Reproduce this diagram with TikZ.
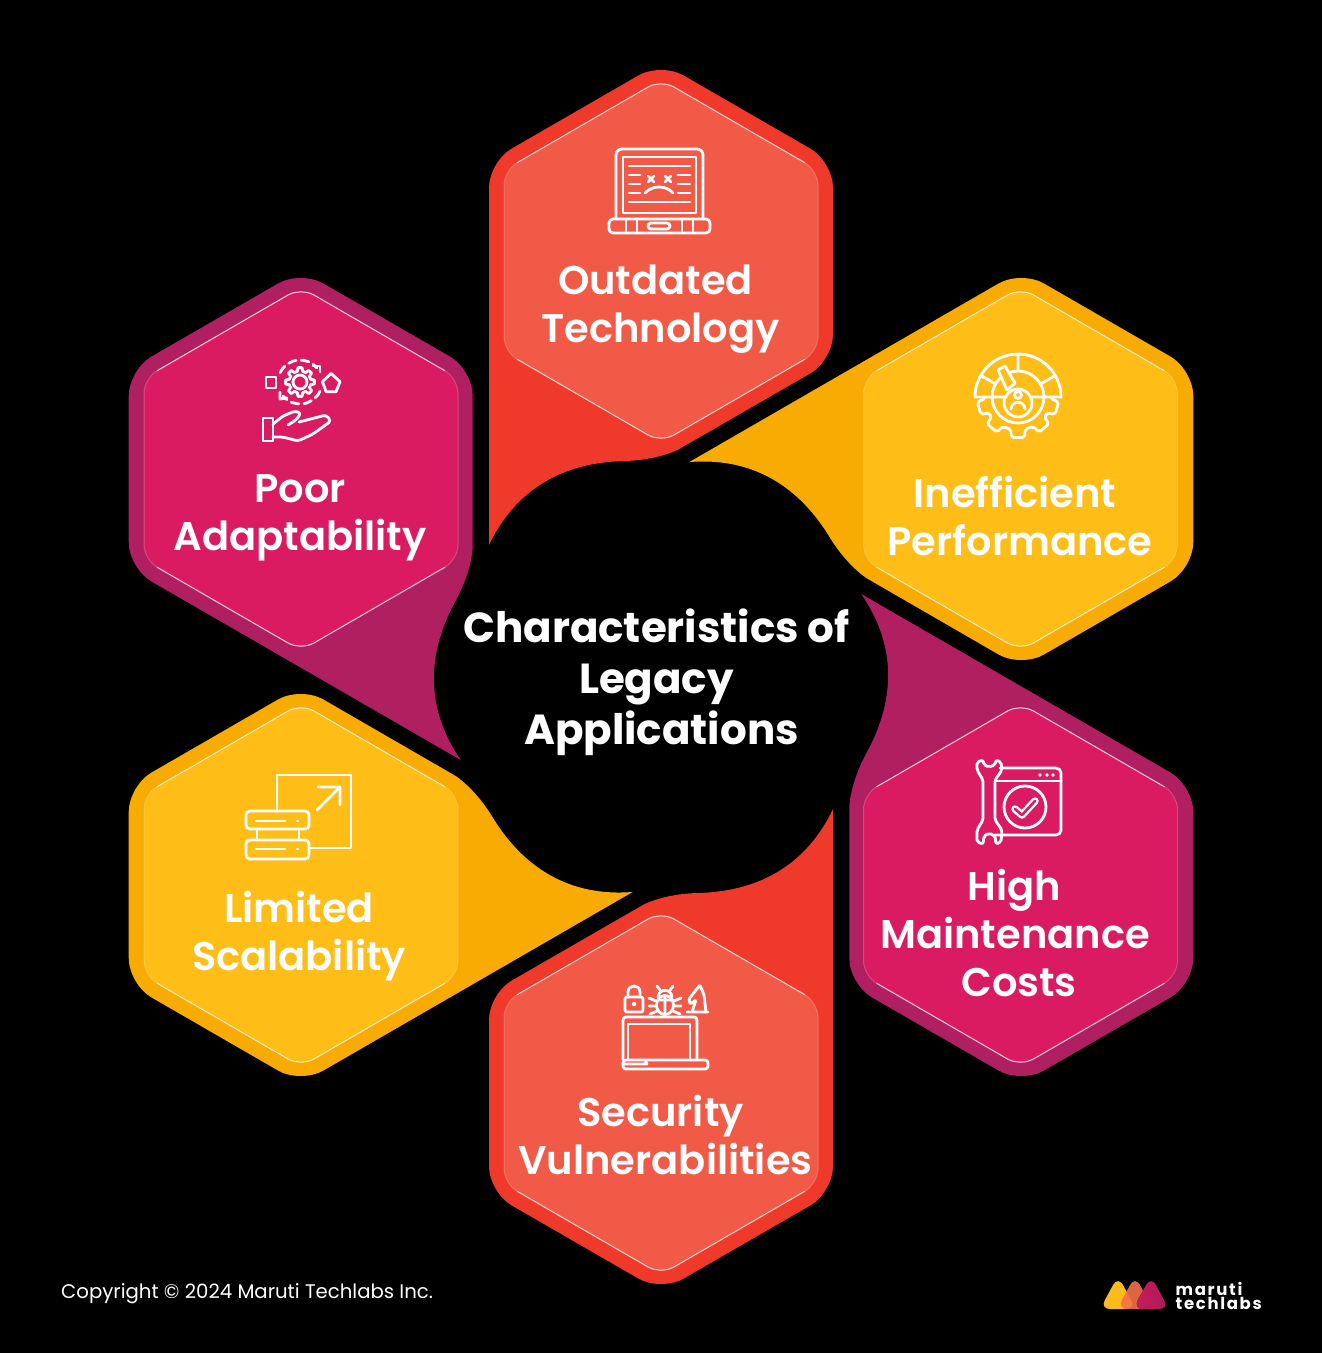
\documentclass[tikz,border=0pt]{standalone}
\usepackage{fontspec}
\setmainfont{Poppins}
\newfontfamily\labelfont{Poppins SemiBold}
\newfontfamily\logofont[LetterSpace=10]{Poppins}
\definecolor{ringred}{HTML}{EE392B}
\definecolor{ringamber}{HTML}{F8AB03}
\definecolor{ringpink}{HTML}{B01F5F}
\definecolor{hexred}{HTML}{F25A48}
\definecolor{hexamber}{HTML}{FEBE17}
\definecolor{hexpink}{HTML}{DA1B62}
\definecolor{logoamber}{HTML}{FDBA1C}
\definecolor{logoorange}{HTML}{F4704A}
\tikzset{
  iconline/.style={draw=white, line width=2.8pt, line join=round, line cap=round},
  celltext/.style={text=white, align=center, font=\labelfont\fontsize{40}{48}\selectfont},
  titletext/.style={text=white, align=center, font=\bfseries\fontsize{42}{51}\selectfont},
}
\begin{document}
\begin{tikzpicture}[x=1pt,y=-1pt]
  \useasboundingbox (0,0) rectangle (1322,1353);
  \fill[black] (0,0) rectangle (1322,1353);

  % Outer hexagons with their tails
  \foreach \i/\ringcol in {0/ringred,1/ringamber,2/ringpink,3/ringred,4/ringamber,5/ringpink}{
    \begin{scope}[rotate around={-60*\i:(661,677)}]
      \fill[\ringcol, rounded corners=26pt] (489,545) -- (489,161.7) -- (661,62.4) -- (833,161.7)
        -- (833,360.3) -- (700,437) [sharp corners] .. controls (680,448.5) and (660,460) .. (625,461)
        .. controls (575,462) and (520,480) .. (489,545) -- cycle;
    \end{scope}
  }

  % Inner hexagons
  \foreach \hx/\hy/\hexcol in {661/261/hexred,1020.5/469/hexamber,1020.5/885/hexpink,661/1093/hexred,301/885/hexamber,301/469/hexpink}{
    \begin{scope}[shift={(\hx,\hy)}]
      \path[fill=\hexcol, draw=white, draw opacity=0.2, line width=1pt, rounded corners=15pt]
        (0,-181.5) -- (157,-90.7) -- (157,90.7) -- (0,181.5) -- (-157,90.7) -- (-157,-90.7) -- cycle;
      \draw[white, opacity=0.7, line width=1pt, rounded corners=15pt] (-144,-98.2) -- (0,-181.5) -- (144,-98.2);
      \draw[white, opacity=0.7, line width=1pt, rounded corners=15pt] (-144,98.2) -- (0,181.5) -- (144,98.2);
    \end{scope}
  }

  % Laptop icon
  \draw[iconline, rounded corners=6pt] (616,219) -- (616,149) -- (703,149) -- (703,219);
  \draw[iconline] (623,157) rectangle (696,213);
  \draw[iconline, rounded corners=4pt] (609,219) -- (710,219) -- (710,233) -- (609,233) -- cycle;
  \draw[iconline] (626,219) -- (626,233) (637,219) -- (637,233) (682,219) -- (682,233) (693,219) -- (693,233);
  \draw[iconline, rounded corners=3pt] (648,223) rectangle (670,229);
  \draw[iconline] (629,166) -- (690,166) (629,202) -- (690,202);
  \foreach \ly in {175,184,193}{
    \draw[iconline] (629,\ly) -- (640,\ly) (678,\ly) -- (690,\ly);
  }
  \draw[iconline] (648,176) -- (654,182) (654,176) -- (648,182) (665,176) -- (671,182) (671,176) -- (665,182);
  \draw[iconline] (645,193) .. controls (652,185) and (666,185) .. (673,193);

  % Gauge icon
  \begin{scope}[shift={(1018,397)}]
    \draw[iconline] (-43,0) arc[start angle=180, end angle=360, radius=43] -- cycle;
    \draw[iconline] (0,0) circle[radius=26];
    \draw[iconline] (0,-26) -- (0,-43) (210:26) -- (210:43) (330:26) -- (330:43);
    \draw[iconline, rounded corners=2pt] (34,0) \foreach \a in {16,50,90,130,164}{
      -- (\a-13:33) -- (\a-9:41) -- (\a+9:41) -- (\a+13:33)} -- (-34,0);
    \draw[iconline, fill=hexamber] (-20,-27) -- (-11,-7) -- (-3,-14) -- (-13,-31) -- cycle;
    \draw[iconline, fill=hexamber] (0,6) circle[radius=14];
    \draw[iconline] (0,-2) circle[radius=3.5];
    \draw[iconline] (-7,12) .. controls (-6,3) and (6,3) .. (7,12);
  \end{scope}

  % Gear and hand icon
  \begin{scope}[shift={(300,382)}]
    \draw[iconline] (-14:11) \foreach \a in {0,45,...,315}{
      -- (\a-14:11) -- (\a-8:14.5) -- (\a+8:14.5) -- (\a+14:11)} -- cycle;
    \draw[iconline] (0,0) circle[radius=7];
    \draw[iconline, dash pattern=on 8pt off 5pt] (205:22) arc[start angle=205, end angle=320, radius=22];
    \draw[iconline] (13,-16) -- (20,-16) -- (20,-10);
    \draw[iconline, dash pattern=on 8pt off 5pt] (25:22) arc[start angle=25, end angle=140, radius=22];
    \draw[iconline] (-20,10) -- (-20,17) -- (-13,16);
    \draw[iconline] (31,-8.7) -- (40,-0.3) -- (36,9.7) -- (26,9.7) -- (22.5,-0.3) -- cycle;
  \end{scope}
  \draw[iconline] (266,377) rectangle (276,388);
  \draw[iconline] (263,418) rectangle (273,441);
  \draw[iconline, rounded corners=3pt] (273,424) -- (283,416) -- (295,411) -- (301,413) -- (296,420) -- (288,425);
  \draw[iconline, rounded corners=3pt] (299,422) -- (326,415) -- (331,421) -- (313,434) -- (298,441) -- (283,437) -- (273,437);

  % Wrench and window icon
  \draw[iconline, rounded corners=5pt] (1000,768) -- (1061,768) -- (1061,835) -- (995,835);
  \draw[iconline] (995,781) -- (1061,781);
  \foreach \dx in {1040,1047,1053}{
    \fill[white] (\dx,775) circle[radius=1.8];
  }
  \draw[iconline] (1025,807) circle[radius=21];
  \draw[white, line width=7.5pt, line join=round, line cap=round] (1015,809) -- (1022,815) -- (1035,801);
  \draw[hexpink, line width=2.6pt, line join=round, line cap=round] (1015,809) -- (1022,815) -- (1035,801);
  \draw[iconline, rounded corners=2pt] (983,780) -- (983,820) -- (977,830) -- (977,842) -- (983,844) -- (984,836)
    -- (989,833) -- (995,836) -- (996,844) -- (1001,842) -- (1002,830) -- (995,820) -- (995,780) -- (1002,770)
    -- (1001,762) -- (996,760) -- (995,765) -- (989,767) -- (984,765) -- (983,760) -- (977,762) -- (977,770) -- cycle;

  % Servers and arrow icon
  \draw[iconline] (277,811) -- (277,775) -- (351,775) -- (351,848) -- (310,848);
  \draw[iconline] (317,810) -- (340,787) (318,787) -- (340,787) -- (340,805);
  \draw[iconline, rounded corners=4pt] (246,811) rectangle (309,829);
  \draw[iconline, rounded corners=4pt] (246,840) rectangle (309,859);
  \draw[iconline] (257,829) -- (257,840) (299,829) -- (299,840);
  \draw[iconline] (256,821) -- (285,821) (297,821) -- (298,821) (256,849) -- (285,849) (297,849) -- (298,849);

  % Lock, bug and knight icon
  \draw[iconline, rounded corners=2pt] (625,997) rectangle (643,1012);
  \draw[iconline] (628,997) -- (628,992) .. controls (628,984) and (640,984) .. (640,992) -- (640,997);
  \fill[white] (634,1004) circle[radius=2.2];
  \draw[iconline] (665,1005) ellipse[x radius=8.5, y radius=9.5];
  \draw[iconline] (658,997) .. controls (659,988) and (671,988) .. (672,997) (665,996) -- (665,1014) (657,1000) -- (673,1000);
  \draw[iconline] (660,990) -- (657,986) (670,990) -- (673,986) (656,1001) -- (649,998) (674,1001) -- (681,998)
    (656,1006) -- (649,1006) (674,1006) -- (681,1006) (657,1011) -- (650,1014) (673,1011) -- (680,1014);
  \draw[iconline, rounded corners=1pt] (687,1012) -- (708,1012) (706,1012) -- (704,995) -- (700,985) -- (696,990)
    -- (689,999) -- (690,1004) -- (696,1000) -- (692,1012);
  \draw[iconline, rounded corners=3pt] (623,1060) -- (623,1017) -- (697,1017) -- (697,1060);
  \draw[iconline] (628,1060) -- (628,1024) -- (690,1024) -- (690,1060);
  \draw[iconline, rounded corners=3pt] (623,1060) -- (708,1060) -- (708,1069) -- (623,1069) -- cycle;
  \draw[iconline] (645,1060) -- (647,1064) -- (623,1064);

  % Texts
  \node[titletext] (title) at (656.5,682) {Characteristics of\\\hspace*{0pt}Legacy\\\hspace*{10pt}Applications};
  \node[celltext] (outdated) at (655.5,309) {Outdated\\\hspace*{10pt}Technology};
  \node[celltext] (inefficient) at (1015,516) {Inefficient\\\hspace*{10pt}Performance};
  \node[celltext] (maintenance) at (1014,933) {High\\\hspace*{2pt}Maintenance\\\hspace*{10pt}Costs};
  \node[celltext] (security) at (660.5,1135) {Security\\\hspace*{10pt}Vulnerabilities};
  \node[celltext] (scalability) at (299,936) {Limited\\Scalability};
  \node[celltext] (adaptability) at (300,518) {Poor\\Adaptability};
  \node[text=white, anchor=base west, inner sep=0pt, font=\fontsize{19.7}{24}\selectfont] (copyright) at (61,1298) {Copyright © 2024 Maruti Techlabs Inc.};

  % Logo
  \fill[logoamber, rounded corners=10pt] (1118,1276) -- (1100,1309) -- (1136,1309) -- cycle;
  \fill[logoorange, opacity=0.9, rounded corners=10pt] (1135,1276) -- (1117,1309) -- (1153,1309) -- cycle;
  \fill[left color=hexpink, right color=ringpink, opacity=0.95, rounded corners=10pt] (1151,1276) -- (1133,1309) -- (1169,1309) -- cycle;
  \node[text=white, anchor=west, align=left, inner sep=0pt, font=\logofont\bfseries\fontsize{16.5}{13.5}\selectfont] (logotext) at (1175.5,1296) {maruti\\techlabs};
\end{tikzpicture}
\end{document}
